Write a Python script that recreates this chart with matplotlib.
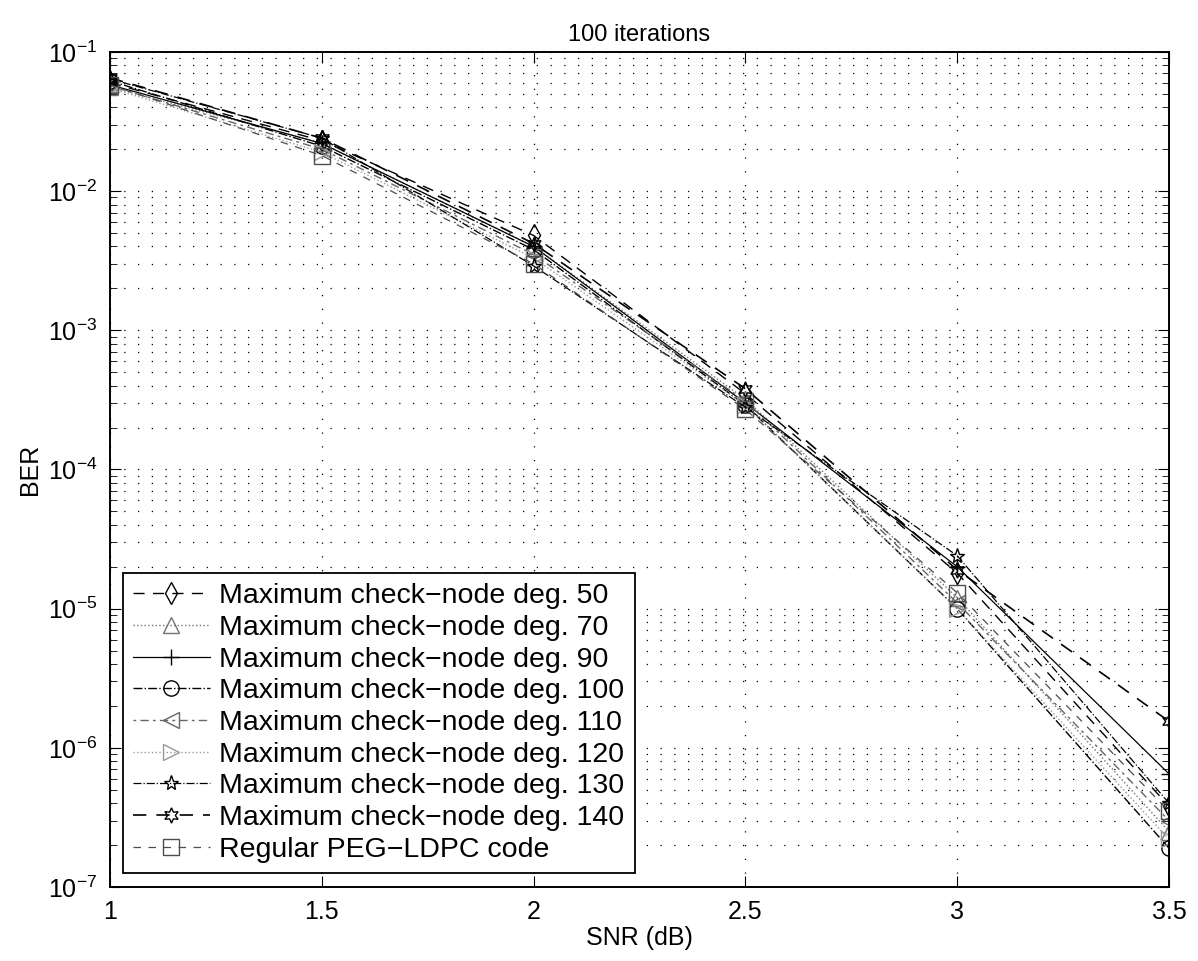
import matplotlib
matplotlib.use("Agg")
import matplotlib.pyplot as plt
import numpy as np
from matplotlib.ticker import LogLocator, FixedLocator, NullFormatter, NullLocator

plt.rcParams['font.family'] = ['Liberation Sans', 'DejaVu Sans']
plt.rcParams['mathtext.fontset'] = 'custom'
plt.rcParams['mathtext.rm'] = 'Liberation Sans'

snr = [1.0, 1.5, 2.0, 2.5, 3.0, 3.5]

labels = ["Maximum check\u2212node deg. 50",
          "Maximum check\u2212node deg. 70",
          "Maximum check\u2212node deg. 90",
          "Maximum check\u2212node deg. 100",
          "Maximum check\u2212node deg. 110",
          "Maximum check\u2212node deg. 120",
          "Maximum check\u2212node deg. 130",
          "Maximum check\u2212node deg. 140",
          "Regular PEG\u2212LDPC code"]

ber_50 = [0.060, 0.023, 0.0048, 3.5e-4, 1.8e-5, 3.8e-7]
ber_70 = [0.056, 0.022, 0.0040, 3.2e-4, 1.2e-5, 2.5e-7]
ber_90 = [0.058, 0.022, 0.0040, 3.0e-4, 2.0e-5, 6.5e-7]
ber_100 = [0.062, 0.021, 0.0038, 2.9e-4, 1.0e-5, 1.9e-7]
ber_110 = [0.057, 0.020, 0.0035, 3.1e-4, 1.1e-5, 3.0e-7]
ber_120 = [0.055, 0.019, 0.0033, 2.9e-4, 1.0e-5, 2.2e-7]
ber_130 = [0.064, 0.024, 0.0029, 2.8e-4, 2.4e-5, 4.0e-7]
ber_140 = [0.065, 0.024, 0.0042, 3.8e-4, 1.9e-5, 1.55e-6]
ber_reg = [0.058, 0.018, 0.0030, 2.7e-4, 1.3e-5, 3.5e-7]

series = [ber_50, ber_70, ber_90, ber_100, ber_110, ber_120, ber_130, ber_140, ber_reg]

# style per curve (matlab-ish look)
styles = [
    dict(ls=(0, (8, 6)), marker='d', color='black', lw=1.0),
    dict(ls=':', marker='^', color='0.45', lw=1.0),
    dict(ls='-', marker='+', color='black', lw=0.9),
    dict(ls='-.', marker='o', color='black', lw=1.0),
    dict(ls=(0, (2, 3, 6, 3)), marker='<', color='0.4', lw=1.0),
    dict(ls=':', marker='>', color='0.6', lw=1.0),
    dict(ls='-.', marker='*', color='black', lw=0.9),
    dict(ls=(0, (8, 6)), marker=(6, 1, 0), color='black', lw=1.2),
    dict(ls=(0, (6, 6)), marker='s', color='0.3', lw=0.9),
]

fig = plt.figure(figsize=(11.98, 9.61), dpi=100)
ax = fig.add_axes([0.0918, 0.077, 0.884, 0.869])

for y, lab, st in zip(series, labels, styles):
    ax.semilogy(snr, y, linestyle=st['ls'], marker=st['marker'], color=st['color'],
                lw=st['lw'], ms=11, mfc='none', mew=1.0, label=lab)

ax.set_xlim(1, 3.5)
ax.set_ylim(1e-7, 1e-1)
ax.xaxis.set_major_locator(FixedLocator([1, 1.5, 2, 2.5, 3, 3.5]))
ax.set_xticklabels(['1', '1.5', '2', '2.5', '3', '3.5'])
ax.xaxis.set_minor_locator(NullLocator())
ax.yaxis.set_major_locator(LogLocator(base=10, numticks=10))
ax.yaxis.set_minor_locator(LogLocator(base=10, subs=np.arange(2, 10), numticks=100))
ax.yaxis.set_minor_formatter(NullFormatter())

ax.grid(True, which='major', ls=(0, (1, 10)), color='black', lw=0.9)
ax.yaxis.grid(True, which='minor', ls=(0, (1, 10)), color='black', lw=0.9)
ax.tick_params(which='both', direction='in', top=True, right=True, labelsize=18)
ax.tick_params(which='major', length=8, pad=9)
ax.tick_params(which='minor', length=5)
for sp in ax.spines.values():
    sp.set_linewidth(1.4)

ax.set_title("100 iterations", fontsize=17, pad=8)
ax.set_xlabel("SNR (dB)", fontsize=18, labelpad=2)
ax.set_ylabel("BER", fontsize=18, labelpad=4)

leg = ax.legend(loc='lower left', bbox_to_anchor=(0.012, 0.017), fontsize=20.5,
                handlelength=2.7, borderpad=0.35, labelspacing=0.2,
                handletextpad=0.35, borderaxespad=0, fancybox=False,
                framealpha=1, edgecolor='black')
leg.get_frame().set_linewidth(1.3)

fig.savefig("out.png", dpi=100)
